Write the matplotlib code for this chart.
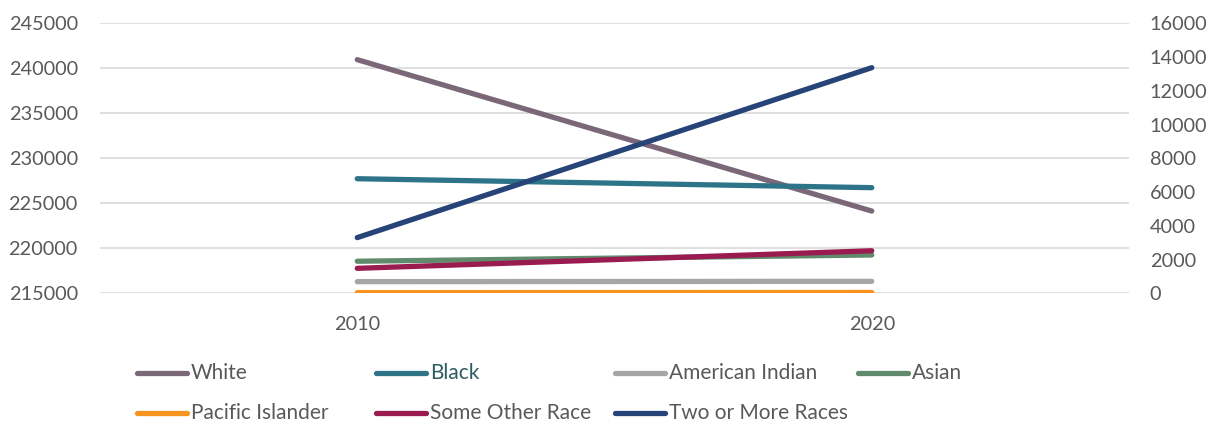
import matplotlib.pyplot as plt
from matplotlib.lines import Line2D

years = ['2010', '2020']

white = [240960, 224140]
black = [6790, 6260]
american_indian = [690, 710]
asian = [1900, 2270]
pacific_islander = [40, 50]
some_other = [1480, 2520]
two_or_more = [3300, 13370]

left_ticks = [215000, 220000, 225000, 230000, 235000, 240000, 245000]
right_ticks = [0, 2000, 4000, 6000, 8000, 10000, 12000, 14000, 16000]

# name, values, colour, axis ('l' or 'r')
series = [
    ('White', white, '#7a6878', 'l'),
    ('Black', black, '#2e7488', 'r'),
    ('American Indian', american_indian, '#a6a6a6', 'r'),
    ('Asian', asian, '#5f8b6c', 'r'),
    ('Pacific Islander', pacific_islander, '#f7941e', 'r'),
    ('Some Other Race', some_other, '#9a1b50', 'r'),
    ('Two or More Races', two_or_more, '#264478', 'r'),
]

plt.rcParams['font.family'] = ['Lato', 'DejaVu Sans']
txt = '#595959'
fs = 14.3

fig = plt.figure(figsize=(12.2, 4.25), dpi=100)
ax = fig.add_axes([100/1220, 1-293.3/425, 1029/1220, 270/425])
ax2 = ax.twinx()

xs = range(len(years))
draw_order = ['White', 'Black', 'American Indian', 'Pacific Islander', 'Asian', 'Some Other Race', 'Two or More Races']
lookup = {s[0]: s for s in series}
for i, name in enumerate(draw_order):
    _, vals, col, side = lookup[name]
    target = ax if side == 'l' else ax2
    target.plot(xs, vals, color=col, lw=3.8, solid_capstyle='round', zorder=3 + i)

ax.set_xlim(-0.5, 1.5)
ax.set_ylim(215000, 245000)
ax2.set_ylim(0, 16000)
ax.set_yticks(left_ticks)
ax.set_yticklabels([str(v) for v in left_ticks])
ax2.set_yticks(right_ticks)
ax2.set_yticklabels([str(v) for v in right_ticks])
ax.set_xticks(list(xs))
ax.set_xticklabels(years)

ax.grid(axis='y', color='#d9d9d9', lw=1.2)
ax.set_axisbelow(True)
for a in (ax, ax2):
    for s in a.spines.values():
        s.set_visible(False)
    a.tick_params(length=0, colors=txt, labelsize=fs)
ax.tick_params(axis='y', pad=16)
ax.tick_params(axis='x', pad=16)
ax2.tick_params(axis='y', pad=15)
ax2.set_zorder(ax.get_zorder() + 1)
ax2.patch.set_visible(False)

# legend laid out in fixed slots, two rows
slots_x = [137, 376, 615, 858]
rows_y = [373, 413]
for i, (name, vals, col, side) in enumerate(series):
    r, c = divmod(i, 4)
    x0 = slots_x[c]
    y = 1 - rows_y[r] / 425
    fig.add_artist(Line2D([x0/1220, (x0+50)/1220], [y, y], color=col, lw=3.8,
                          solid_capstyle='round', transform=fig.transFigure))
    label_col = '#2f5c63' if name == 'Black' else txt
    fig.text((x0+54)/1220, y, name, color=label_col, fontsize=fs + 0.7, va='center', ha='left')

fig.savefig('out.png', dpi=100)
